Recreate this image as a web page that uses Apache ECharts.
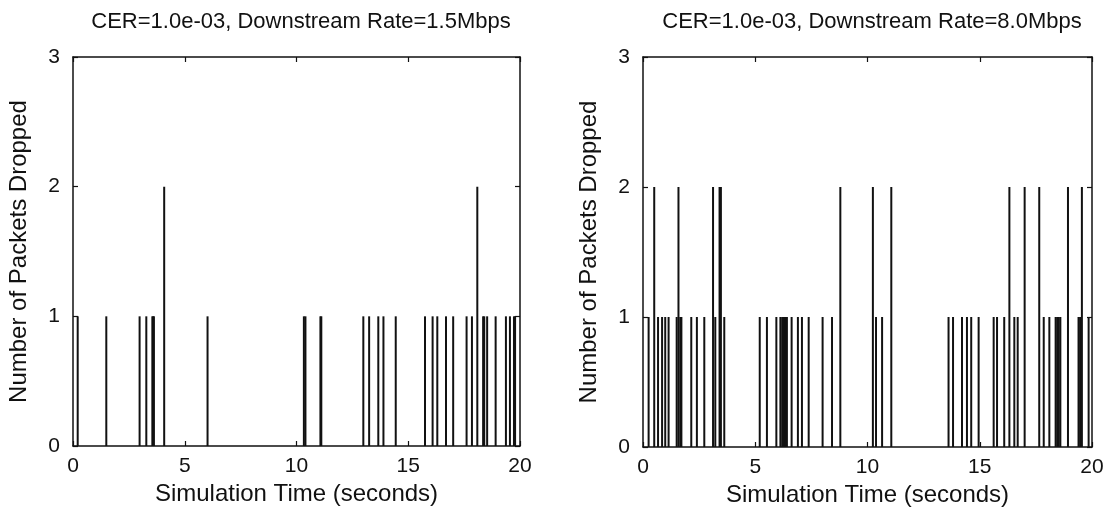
<!DOCTYPE html>
<html>
<head>
<meta charset="utf-8">
<script src="https://cdn.jsdelivr.net/npm/echarts@6/dist/echarts.min.js"></script>
<style>
html,body{margin:0;padding:0;background:#fff;}
#chart{width:1111px;height:520px;}
</style>
</head>
<body>
<div id="chart"></div>
<script>
// ---- data ----
const titles = ['CER=1.0e-03, Downstream Rate=1.5Mbps', 'CER=1.0e-03, Downstream Rate=8.0Mbps'];
const xName = 'Simulation Time (seconds)';
const yName = 'Number of Packets Dropped';
const xTicks = [0, 5, 10, 15, 20];
const yTicks = [0, 1, 2, 3];

// drop events: [time (s), packets dropped]
const drops15 = [
  [0.21,1],[1.49,1],[2.98,1],[3.28,1],[3.55,1],[3.59,1],[3.62,1],[4.08,2],[6.02,1],
  [10.33,1],[10.40,1],[11.07,1],[11.11,1],[12.99,1],[13.25,1],[13.66,1],[13.89,1],[14.44,1],
  [15.75,1],[16.09,1],[16.30,1],[16.69,1],[17.01,1],[17.61,1],[17.85,1],[18.09,2],
  [18.35,1],[18.40,1],[18.53,1],[18.91,1],[19.37,1],[19.55,1],[19.73,1],[19.78,1]
];
const drops80 = [
  [0.25,1],[0.50,2],[0.67,1],[0.85,1],[0.99,1],[1.14,1],[1.50,1],[1.58,2],[1.66,1],[1.71,1],
  [2.15,1],[2.40,1],[2.73,1],[3.12,2],[3.22,1],[3.41,2],[3.47,2],[3.62,1],
  [5.20,1],[5.52,1],[5.94,1],[6.12,1],[6.20,1],[6.28,1],[6.36,1],[6.41,1],[6.62,1],[6.90,1],
  [7.08,1],[7.38,1],[8.00,1],[8.42,1],[8.79,2],
  [10.24,2],[10.38,1],[10.65,1],[11.06,2],
  [13.61,1],[13.81,1],[14.21,1],[14.43,1],[14.62,1],[14.95,1],[15.62,1],[15.77,1],[16.09,1],
  [16.32,2],[16.54,1],[16.69,1],[17.00,2],[17.65,2],[17.85,1],[18.10,1],
  [18.38,1],[18.45,1],[18.52,1],[18.59,1],[18.93,2],[19.40,1],[19.47,1],[19.55,2],[19.85,1]
];

// ---- chart ----
const FONT = 'Liberation Sans';
const INK = '#111';
const grids = [
  {left: 73, top: 57, width: 447, height: 389},
  {left: 643, top: 57, width: 449, height: 390}
];
const titleCenters = [296, 867];

const xAxes = [], yAxes = [], series = [], titleArr = [];
const datasets = [drops15, drops80];
grids.forEach((g, i) => {
  titleArr.push({
    text: titles[i], left: titleCenters[i], top: 6, textAlign: 'center',
    textStyle: {fontFamily: FONT, fontSize: 22, fontWeight: 'normal', color: INK}
  });
  const line = {show: true, onZero: false, lineStyle: {color: INK, width: 1.5}};
  const tick = {show: true, inside: true, length: 5, lineStyle: {color: INK, width: 1.2}};
  // bottom
  xAxes.push({
    gridIndex: i, type: 'value', position: 'bottom', min: xTicks[0], max: xTicks[xTicks.length-1],
    interval: xTicks[1]-xTicks[0],
    axisLine: line, axisTick: tick, splitLine: {show: false},
    axisLabel: {fontFamily: FONT, fontSize: 21, color: INK, margin: 10},
    name: xName, nameLocation: 'middle', nameGap: 35,
    nameTextStyle: {fontFamily: FONT, fontSize: 24, color: INK}
  });
  // top (frame)
  xAxes.push({
    gridIndex: i, type: 'value', position: 'top', min: xTicks[0], max: xTicks[xTicks.length-1],
    interval: xTicks[1]-xTicks[0],
    axisLine: line, axisTick: tick, splitLine: {show: false}, axisLabel: {show: false}
  });
  // left
  yAxes.push({
    gridIndex: i, type: 'value', position: 'left', min: yTicks[0], max: yTicks[yTicks.length-1],
    interval: 1,
    axisLine: line, axisTick: tick, splitLine: {show: false},
    axisLabel: {fontFamily: FONT, fontSize: 21, color: INK, margin: 13},
    name: yName, nameLocation: 'middle', nameGap: 42,
    nameTextStyle: {fontFamily: FONT, fontSize: 24, color: INK}
  });
  // right (frame)
  yAxes.push({
    gridIndex: i, type: 'value', position: 'right', min: yTicks[0], max: yTicks[yTicks.length-1],
    interval: 1,
    axisLine: line, axisTick: tick, splitLine: {show: false}, axisLabel: {show: false}
  });
  series.push({
    type: 'bar', xAxisIndex: i*2, yAxisIndex: i*2, data: datasets[i],
    barWidth: 2, itemStyle: {color: INK}, silent: true, animation: false
  });
});

const chart = echarts.init(document.getElementById('chart'), null, {renderer: 'canvas'});
chart.setOption({
  animation: false,
  backgroundColor: '#fff',
  title: titleArr,
  grid: grids,
  xAxis: xAxes,
  yAxis: yAxes,
  series: series
});
</script>
</body>
</html>
